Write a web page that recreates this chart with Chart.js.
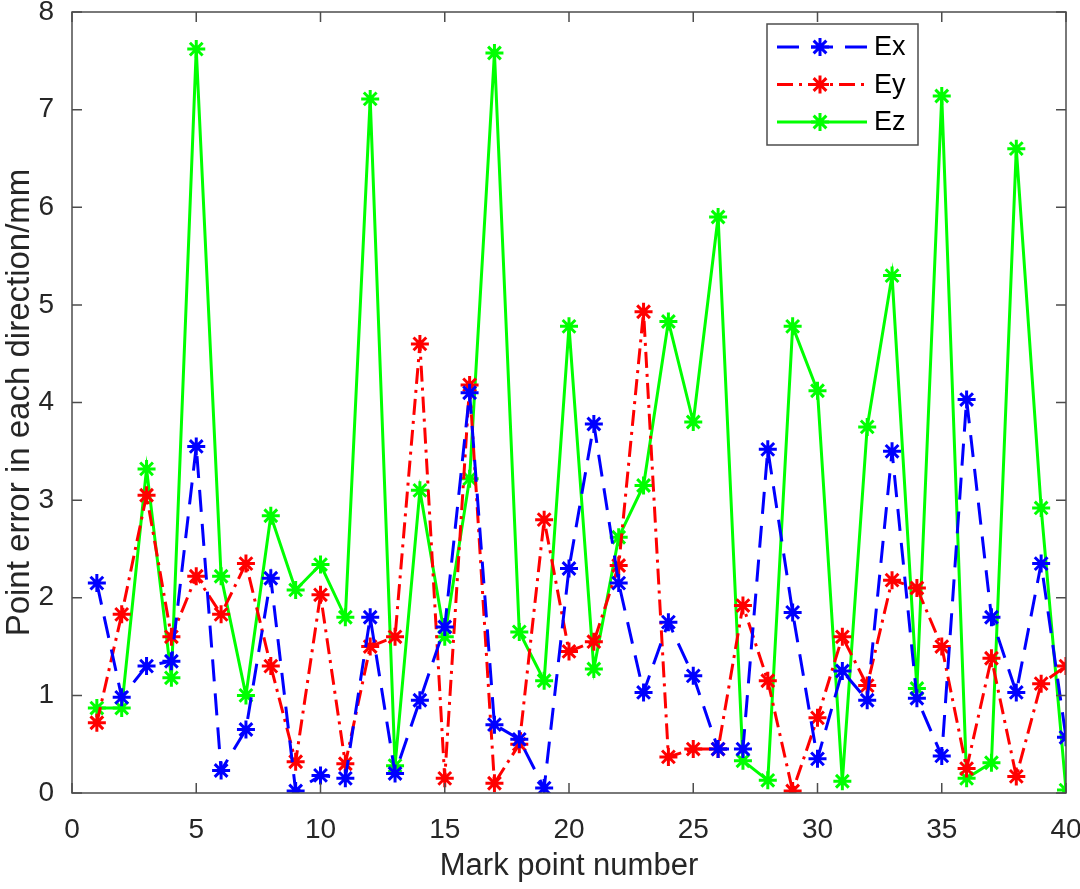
<!DOCTYPE html>
<html>
<head>
<meta charset="utf-8">
<script src="https://cdn.jsdelivr.net/npm/chart.js@4.4.1/dist/chart.umd.min.js"></script>
<style>
  html, body { margin: 0; padding: 0; background: #fff; }
  #wrap { width: 1080px; height: 889px; }
</style>
</head>
<body>
<div id="wrap"><canvas id="err"></canvas></div>
<script>
(() => {

/* ---------- DATA ---------- */

const points = Array.from({ length: 40 }, (_, i) => i + 1);

const ex = [2.15, 0.98, 1.3, 1.35, 3.55, 0.23, 0.65, 2.2, 0.02, 0.18,
            0.15, 1.8, 0.2, 0.95, 1.7, 4.1, 0.7, 0.55, 0.05, 2.3,
            3.78, 2.15, 1.03, 1.75, 1.2, 0.45, 0.45, 3.52, 1.85, 0.35,
            1.25, 0.95, 3.5, 0.97, 0.38, 4.03, 1.8, 1.03, 2.35, 0.57];

const ey = [0.72, 1.83, 3.05, 1.6, 2.22, 1.83, 2.35, 1.3, 0.32, 2.03,
            0.3, 1.5, 1.6, 4.6, 0.15, 4.18, 0.1, 0.5, 2.8, 1.45,
            1.55, 2.33, 4.93, 0.37, 0.45, 0.45, 1.92, 1.15, 0.02, 0.77,
            1.6, 1.1, 2.18, 2.1, 1.5, 0.25, 1.38, 0.17, 1.12, 1.3];

const ez = [0.87, 0.87, 3.32, 1.18, 7.62, 2.22, 1.0, 2.84, 2.08, 2.34,
            1.8, 7.11, 0.28, 3.1, 1.6, 3.22, 7.58, 1.65, 1.15, 4.78,
            1.27, 2.62, 3.15, 4.83, 3.8, 5.9, 0.33, 0.13, 4.78, 4.12,
            0.12, 3.75, 5.3, 1.07, 7.14, 0.15, 0.31, 6.6, 2.92, 0.03];

const xTicks = [0, 5, 10, 15, 20, 25, 30, 35, 40];
const yTicks = [0, 1, 2, 3, 4, 5, 6, 7, 8];

const FONT = "'Liberation Sans', Arial, sans-serif";
const AXIS = "#4d4d4d";

/* ---------- HELPERS ---------- */

function series(label, values, color, dash) {
  return {
    label,
    data: values.map((v, i) => ({ x: points[i], y: v })),
    borderColor: color,
    backgroundColor: color,
    borderWidth: 3,
    borderDash: dash,
    pointStyle: "star",
    pointRadius: 9,
    pointBorderWidth: 3,
    pointBorderColor: color,
    pointHoverRadius: 9,
    tension: 0
  };
}

/* MATLAB-like box with inward ticks */
const boxPlugin = {
  id: "box",
  afterDraw(chart) {
    const { ctx, chartArea: a, scales } = chart;
    ctx.save();
    ctx.strokeStyle = AXIS;
    ctx.lineWidth = 1.5;
    ctx.strokeRect(a.left, a.top, a.right - a.left, a.bottom - a.top);
    const len = 10;
    ctx.beginPath();
    xTicks.forEach(v => {
      const px = scales.x.getPixelForValue(v);
      ctx.moveTo(px, a.bottom); ctx.lineTo(px, a.bottom - len);
      ctx.moveTo(px, a.top); ctx.lineTo(px, a.top + len);
    });
    yTicks.forEach(v => {
      const py = scales.y.getPixelForValue(v);
      ctx.moveTo(a.left, py); ctx.lineTo(a.left + len, py);
      ctx.moveTo(a.right, py); ctx.lineTo(a.right - len, py);
    });
    ctx.stroke();
    ctx.restore();
  }
};

/* legend box in the upper right, drawn from the datasets */
const legendPlugin = {
  id: "boxLegend",
  afterDraw(chart) {
    const { ctx } = chart;
    const x0 = 767, y0 = 24, w = 151, h = 121;
    ctx.save();
    ctx.fillStyle = "#fff";
    ctx.fillRect(x0, y0, w, h);
    ctx.strokeStyle = AXIS;
    ctx.lineWidth = 1.5;
    ctx.strokeRect(x0, y0, w, h);
    chart.data.datasets.forEach((ds, i) => {
      const y = y0 + 23 + i * 37.5;
      ctx.strokeStyle = ds.borderColor;
      ctx.fillStyle = ds.borderColor;
      ctx.lineWidth = 3;
      ctx.setLineDash(ds.borderDash || []);
      ctx.beginPath();
      ctx.moveTo(x0 + 10, y);
      ctx.lineTo(x0 + 100, y);
      ctx.stroke();
      ctx.setLineDash([]);
      Chart.helpers.drawPoint(ctx, {
        pointStyle: "star", radius: 9, borderWidth: 3
      }, x0 + 53, y);
      ctx.fillStyle = "#000";
      ctx.font = "27px " + FONT;
      ctx.textBaseline = "middle";
      ctx.fillText(ds.label, x0 + 107, y + 1);
    });
    ctx.restore();
  }
};

/* ---------- CHART ---------- */

new Chart(document.getElementById("err"), {
  type: "line",
  data: {
    datasets: [
      series("Ex", ex, "#0000ff", [22, 12]),
      series("Ey", ey, "#ff0000", [16, 6, 3, 6]),
      series("Ez", ez, "#00ff00", [])
    ]
  },
  options: {
    responsive: true,
    maintainAspectRatio: false,
    animation: false,
    layout: { padding: { top: 11, right: 14, left: 0, bottom: 0 } },
    plugins: {
      legend: { display: false },
      tooltip: { enabled: false }
    },
    scales: {
      x: {
        type: "linear",
        min: 0,
        max: 40,
        afterBuildTicks: s => { s.ticks = xTicks.map(v => ({ value: v })); },
        afterFit: s => { s.height = 96; s.paddingLeft = 0; s.paddingRight = 0; },
        grid: { display: false },
        border: { display: false },
        ticks: { color: "#262626", font: { family: FONT, size: 28 }, padding: 12, maxRotation: 0 },
        title: {
          display: true,
          text: "Mark point number",
          color: "#262626",
          font: { family: FONT, size: 31 },
          padding: { top: 0 }
        }
      },
      y: {
        min: 0,
        max: 8,
        afterBuildTicks: s => { s.ticks = yTicks.map(v => ({ value: v })); },
        afterFit: s => { s.width = 72; s.paddingTop = 0; s.paddingBottom = 0; },
        grid: { display: false },
        border: { display: false },
        ticks: { color: "#262626", font: { family: FONT, size: 28 }, padding: 10 },
        title: {
          display: true,
          text: "Point error in each direction/mm",
          color: "#262626",
          font: { family: FONT, size: 33 },
          padding: { top: 0, bottom: 0 }
        }
      }
    }
  },
  plugins: [boxPlugin, legendPlugin]
});

})();
</script>
</body>
</html>
